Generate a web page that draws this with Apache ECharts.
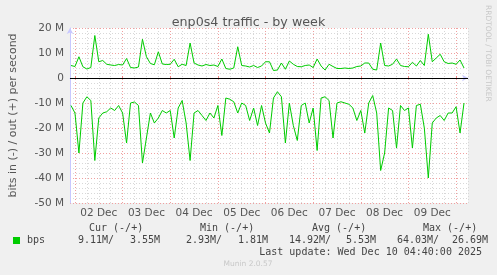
<!DOCTYPE html>
<html>
<head>
<meta charset="utf-8">
<script src="https://cdn.jsdelivr.net/npm/echarts@6/dist/echarts.min.js"></script>
<style>
  html, body { margin: 0; padding: 0; background: #f0f0f0; }
  #chart { width: 497px; height: 275px; }
</style>
</head>
<body>
<div id="chart"></div>
<script>
// hours since Dec 1 00:00, one sample every 2 hours
const startHour = 22;
const stepHours = 2;

// out (+), Mbit/s
const outBps = [
  5.0, 4.6, 8.5, 4.5, 3.6, 4.2, 17, 6.5, 7.0, 5.5, 5.2, 5.0, 5.4, 5.2, 7.8, 4.2, 4.0, 4.4, 15.5, 8.5, 5.8, 5.3, 10.5, 5.6, 5.4,
  5.5, 7.5, 4.5, 5.5, 5.0, 14, 6.0, 5.2, 4.8, 5.4, 5.0, 5.2, 4.6, 7.6, 3.8, 3.5, 4.0, 12.5, 5.0, 4.8, 4.4, 5.0, 4.2, 4.8, 6.5,
  6.5, 3.0, 3.2, 6.0, 3.5, 6.8, 5.5, 4.6, 4.5, 5.0, 5.2, 4.2, 7.6, 4.8, 3.2, 5.5, 4.6, 3.8, 3.8, 4.0, 3.8, 4.0, 4.6, 4.8, 6.0,
  6.0, 3.5, 3.2, 14, 5.0, 4.8, 5.5, 7.6, 5.0, 4.6, 4.5, 6.3, 4.8, 7.0, 5.0, 17.5, 6.5, 8.0, 9.5, 6.5, 5.8, 6.0, 5.5, 7.2, 4.0
];

// in (-), Mbit/s
const inBps = [
  -11, -14, -30, -10, -7.5, -9, -33, -16, -14, -13.5, -12, -13, -11, -14, -26, -10, -9.6, -11, -34, -24, -14, -18, -16, -13, -14,
  -13, -24, -12, -9, -18, -33, -14, -13, -15, -17, -14, -16, -11, -23, -8, -8.5, -9.5, -14, -10, -11, -17, -12, -19, -11, -18,
  -22, -8, -5.5, -7.5, -26, -10, -19, -25, -11, -10, -18, -12, -29, -8, -7.5, -9, -24, -10, -9.5, -10, -10.5, -12, -17, -13, -22,
  -10, -7, -14, -37, -30, -12, -13, -28, -11, -13, -12, -28, -11, -10.5, -20, -40, -18, -16, -15, -17, -14, -14, -11.5, -22, -10
];

const dayLabels = ['02 Dec', '03 Dec', '04 Dec', '05 Dec', '06 Dec', '07 Dec', '08 Dec', '09 Dec'];
const midnights = [24, 48, 72, 96, 120, 144, 168, 192, 216];
const noons = [36, 60, 84, 108, 132, 156, 180, 204];
const sixHours = [24, 30, 36, 42, 48, 54, 60, 66, 72, 78, 84, 90, 96, 102, 108, 114, 120, 126, 132, 138,
  144, 150, 156, 162, 168, 174, 180, 186, 192, 198, 204, 210, 216, 222];

const legendHeads = ['Cur (-/+)', 'Min (-/+)', 'Avg (-/+)', 'Max (-/+)'];
const legendVals = ['9.11M/', '3.55M', '2.93M/', '1.81M', '14.92M/', '5.53M', '64.03M/', '26.69M'];

const green = '#00cc00';
const toPairs = arr => arr.map((v, i) => [startHour + i * stepHours, v]);

const chart = echarts.init(document.getElementById('chart'));

const headX = [89, 200, 312, 423];
const valX = [78, 130, 186, 238, 289, 346, 397, 452];
const mono = '"DejaVu Sans Mono", monospace';

const graphics = [
  {
    type: 'text', left: 484, top: 5,
    rotation: -Math.PI / 2,
    style: { text: 'RRDTOOL / TOBI OETIKER', fill: '#c8c8c8', font: '7.5px "DejaVu Sans"' }
  },
  { type: 'rect', shape: { x: 13, y: 237, width: 7, height: 7 }, style: { fill: green } },
  { type: 'text', x: 27, y: 240, style: { text: 'bps', fill: '#444', font: '10px ' + mono, textVerticalAlign: 'middle' } },
  { type: 'text', x: 482, y: 252, style: { text: 'Last update: Wed Dec 10 04:40:00 2025', fill: '#444', font: '10px ' + mono, textAlign: 'right', textVerticalAlign: 'middle' } },
  { type: 'text', x: 248, y: 264, style: { text: 'Munin 2.0.57', fill: '#c8c8c8', font: '7.5px "DejaVu Sans"', textAlign: 'center', textVerticalAlign: 'middle' } }
];
legendHeads.forEach((t, i) => {
  graphics.push({ type: 'text', x: headX[i], y: 228, style: { text: t, fill: '#444', font: '10px ' + mono, textVerticalAlign: 'middle' } });
});
legendVals.forEach((t, i) => {
  graphics.push({ type: 'text', x: valX[i], y: 240, style: { text: t, fill: '#444', font: '10px ' + mono, textVerticalAlign: 'middle' } });
});

const option = {
  backgroundColor: '#f0f0f0',
  animation: false,
  title: {
    text: 'enp0s4 traffic - by week',
    left: 'center',
    top: 11,
    textStyle: { fontFamily: 'DejaVu Sans', fontSize: 12.7, fontWeight: 'normal', color: '#555' }
  },
  grid: {
    left: 67, right: 29, top: 28, bottom: 72,
    show: true, backgroundColor: '#fff', borderWidth: 0
  },
  xAxis: [
    {
      type: 'value', min: 21.5, max: 222,
      axisLine: { show: true, lineStyle: { color: '#c8c8ff' }, symbol: ['none', 'arrow'], symbolSize: [5, 6] },
      axisTick: { show: true, customValues: midnights, length: 2, inside: true, lineStyle: { color: '#f08080' } },
      axisLabel: {
        customValues: noons, margin: 5,
        color: '#555', fontFamily: 'DejaVu Sans', fontSize: 10.5,
        formatter: v => dayLabels[Math.round((v - 36) / 24)]
      },
      splitLine: { show: true, lineStyle: { color: '#f0a0a0', type: [1, 2] } },
      z: 3
    },
    {
      type: 'value', min: 21.5, max: 222,
      axisLine: { show: false },
      axisTick: { show: false, customValues: sixHours },
      axisLabel: { show: false },
      splitLine: { show: true, lineStyle: { color: '#d8d8d8', type: [1, 2] } }
    }
  ],
  yAxis: {
    type: 'value', min: -50, max: 20, interval: 10,
    name: 'bits in (-) / out (+) per second',
    nameLocation: 'middle', nameGap: 51,
    nameTextStyle: { fontFamily: 'DejaVu Sans', fontSize: 11, color: '#555' },
    axisLine: { show: true, lineStyle: { color: '#c8c8ff' }, symbol: ['none', 'arrow'], symbolSize: [5, 6] },
    axisTick: { show: false },
    axisLabel: {
      margin: 6, color: '#555', fontFamily: 'DejaVu Sans', fontSize: 10.5,
      formatter: v => (v === 0 ? '0' : v + ' M')
    },
    splitLine: { show: true, lineStyle: { color: '#f0a0a0', type: [1, 2] } },
    minorTick: { show: false, splitNumber: 5 },
    minorSplitLine: { show: true, lineStyle: { color: '#d8d8d8', type: [1, 2] } }
  },
  series: [
    {
      name: 'out', type: 'line', data: toPairs(outBps),
      showSymbol: false, lineStyle: { color: green, width: 1 }, z: 5,
      markLine: {
        silent: true, symbol: 'none', label: { show: false },
        lineStyle: { color: '#000', type: 'solid', width: 1 },
        data: [{ yAxis: 0 }]
      }
    },
    {
      name: 'in', type: 'line', data: toPairs(inBps),
      showSymbol: false, lineStyle: { color: green, width: 1 }, z: 5
    }
  ],
  graphic: graphics
};

chart.setOption(option);
</script>
</body>
</html>
